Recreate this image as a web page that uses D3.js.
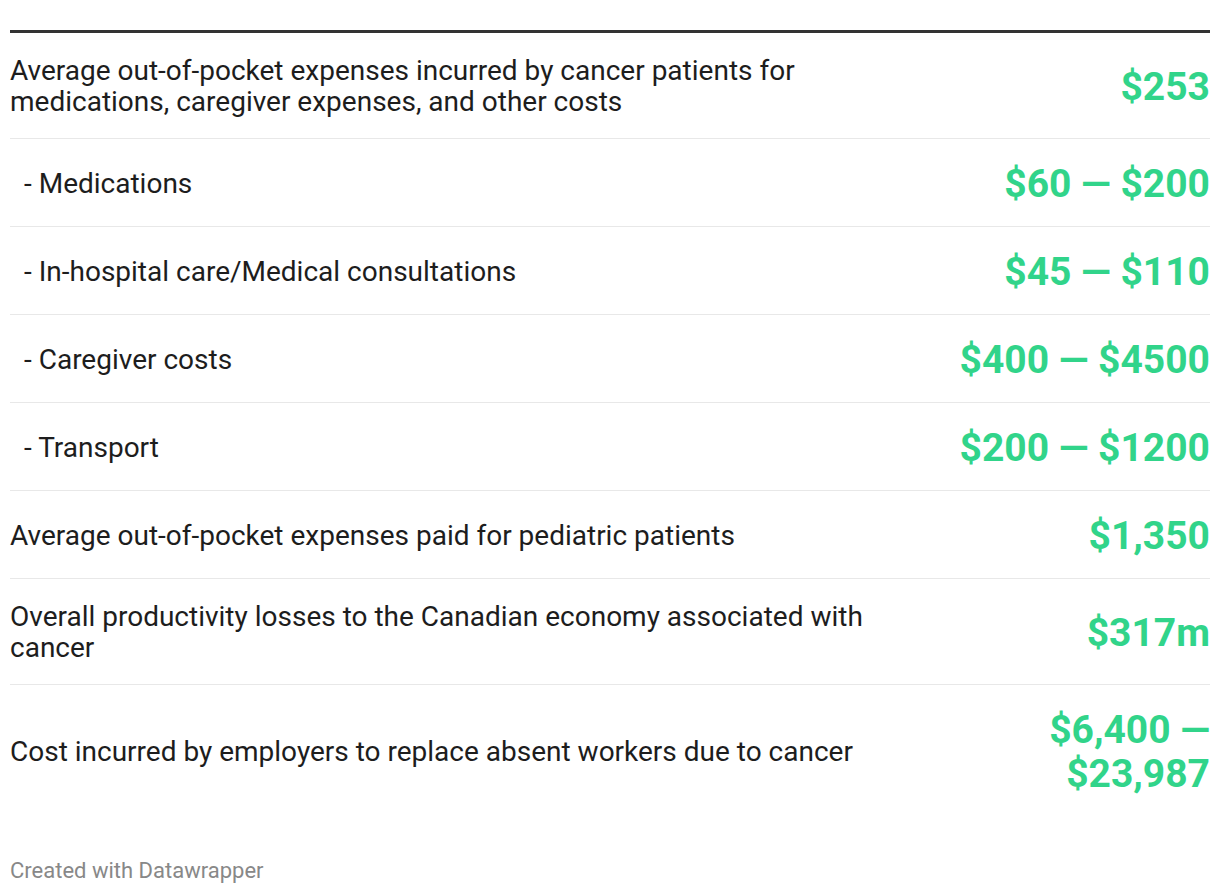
<!DOCTYPE html>
<html><head><meta charset="utf-8">
<script src="https://cdn.jsdelivr.net/npm/d3@7"></script>
<style>
html,body{margin:0;padding:0;background:#fff;}
svg{display:block;font-family:Roboto,"Noto Sans",sans-serif;}
</style></head>
<body>
<svg id="c" width="1220" height="894"></svg>
<script>
const labels = [
  ["Average out-of-pocket expenses incurred by cancer patients for", "medications, caregiver expenses, and other costs"],
  ["- Medications"],
  ["- In-hospital care/Medical consultations"],
  ["- Caregiver costs"],
  ["- Transport"],
  ["Average out-of-pocket expenses paid for pediatric patients"],
  ["Overall productivity losses to the Canadian economy associated with", "cancer"],
  ["Cost incurred by employers to replace absent workers due to cancer"]
];
const values = [
  ["$253"],
  ["$60 \u2014 $200"],
  ["$45 \u2014 $110"],
  ["$400 \u2014 $4500"],
  ["$200 \u2014 $1200"],
  ["$1,350"],
  ["$317m"],
  ["$6,400 \u2014", "$23,987"]
];
const footer = "Created with Datawrapper";

(function(){
const svg = d3.select("#c");
const left = 10, right = 1210, topY = 30;
const textLH = 31, valLH = 44, pad = 43;

svg.append("rect").attr("x", left).attr("y", topY).attr("width", right-left).attr("height", 3).attr("fill", "#333");

let y = topY + 3;
const rows = labels.map((l, i) => {
  const h = Math.max(l.length*textLH, values[i].length*valLH) + pad + (i > 0 ? 1 : 0);
  const r = {i, y0: y, h, label: l, value: values[i]};
  y += h;
  return r;
});

const g = svg.selectAll("g.row").data(rows).join("g").attr("class","row")
  .attr("transform", d => `translate(0,${d.y0})`);

g.filter(d => d.i > 0).append("rect").attr("x", left).attr("y", 0).attr("width", right-left).attr("height", 1).attr("fill", "#e8e8e8");

g.each(function(d){
  const sel = d3.select(this);
  const off = d.i > 0 ? 1 : 0;
  const cy = off + (d.h - off)/2;
  const t = sel.append("text").attr("font-size", 28).attr("fill", "#1d1d1d");
  d.label.forEach((line, k) => {
    const indent = line.startsWith("- ") ? 14 : 0;
    t.append("tspan").attr("x", left + indent)
      .attr("y", cy + (k - (d.label.length-1)/2)*textLH + (d.label.length === 1 ? 1 : 0))
      .attr("dy", "0.35em").text(line);
  });
  const v = sel.append("text").attr("font-size", 39).attr("font-weight", 700)
    .attr("fill", "#31d48a").attr("text-anchor", "end");
  d.value.forEach((line, k) => {
    v.append("tspan").attr("x", right)
      .attr("y", cy + (k - (d.value.length-1)/2)*valLH + 1)
      .attr("dy", "0.35em").text(line);
  });
});

svg.append("text").attr("x", left).attr("y", 870).attr("dy", "0.35em")
  .attr("font-size", 22).attr("fill", "#888").text(footer);
})();
</script>
</body></html>
